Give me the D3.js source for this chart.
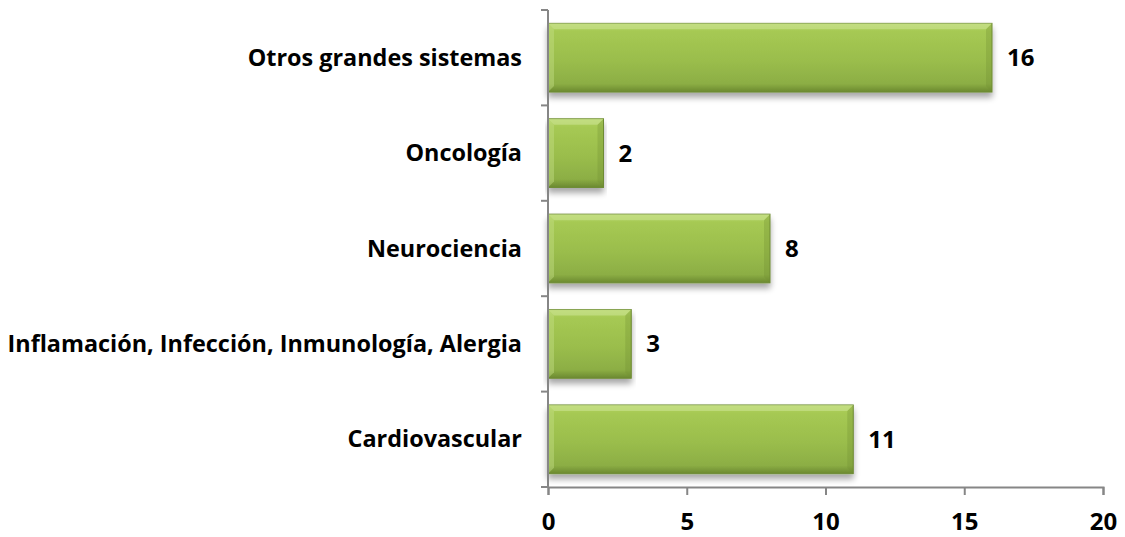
<!DOCTYPE html>
<html>
<head>
<meta charset="utf-8">
<script src="https://cdn.jsdelivr.net/npm/d3@7"></script>
<style>
  body { margin: 0; background: #fff; }
  text { font-family: "Open Sans", sans-serif; font-weight: bold; fill: #000; }
</style>
</head>
<body>
<div class="chart"></div>
<script>
// categories top to bottom as drawn
const categories = ['Otros grandes sistemas', 'Oncología', 'Neurociencia',
  'Inflamación, Infección, Inmunología, Alergia', 'Cardiovascular'];
const values = [16, 2, 8, 3, 11];
const xTicks = [0, 5, 10, 15, 20];

const width = 1125;
const height = 537;
const mLeft = 548, mRight = 1103, mTop = 10, mBottom = 487;

const svg = d3.select('.chart').append('svg')
    .attr('width', width)
    .attr('height', height)

const x = d3.scaleLinear().domain([0, 20]).range([mLeft, mRight]);
const y = d3.scaleBand().domain(categories).range([mTop, mBottom]).paddingInner(0.28).paddingOuter(0.14);

const defs = svg.append('defs');
const grad = defs.append('linearGradient').attr('id', 'barGrad')
    .attr('x1', 0).attr('y1', 0).attr('x2', 0).attr('y2', 1);
grad.append('stop').attr('offset', '0%').attr('stop-color', '#b4d467');
grad.append('stop').attr('offset', '12%').attr('stop-color', '#a6c953');
grad.append('stop').attr('offset', '55%').attr('stop-color', '#9abd4c');
grad.append('stop').attr('offset', '88%').attr('stop-color', '#8cae44');
grad.append('stop').attr('offset', '100%').attr('stop-color', '#6b8930');

const shadow = defs.append('filter').attr('id', 'shadow')
    .attr('x', '-5%').attr('y', '-10%').attr('width', '110%').attr('height', '130%');
shadow.append('feGaussianBlur').attr('in', 'SourceAlpha').attr('stdDeviation', 3);
shadow.append('feOffset').attr('dy', 5).attr('result', 'b');
shadow.append('feComponentTransfer').append('feFuncA').attr('type', 'linear').attr('slope', 0.35);
const merge = shadow.append('feMerge');
merge.append('feMergeNode');
merge.append('feMergeNode').attr('in', 'SourceGraphic');

const bars = svg.selectAll('g.bar')
    .data(categories)
    .enter()
    .append('g')
    .attr('class', 'bar')

bars.append('rect')
    .attr('x', x(0))
    .attr('y', d => y(d))
    .attr('width', (d, i) => x(values[i]) - x(0))
    .attr('height', y.bandwidth())
    .attr('fill', 'url(#barGrad)')
    .attr('stroke', '#6e8b34')
    .attr('stroke-width', 1)
    .attr('filter', 'url(#shadow)')

// bevel: light left edge, darker right edge
const bev = 6;
bars.append('path')
    .attr('d', (d, i) => {
      const x0 = x(0), y0 = y(d), h = y.bandwidth();
      return `M${x0},${y0}L${x0 + bev},${y0 + bev}L${x0 + bev},${y0 + h - bev}L${x0},${y0 + h}Z`;
    })
    .attr('fill', '#c3de86').attr('opacity', 0.45)
bars.append('path')
    .attr('d', (d, i) => {
      const x1 = x(values[i]), y0 = y(d), h = y.bandwidth();
      return `M${x1},${y0}L${x1 - bev},${y0 + bev}L${x1 - bev},${y0 + h - bev}L${x1},${y0 + h}Z`;
    })
    .attr('fill', '#6f8d32').attr('opacity', 0.3)
bars.append('path')
    .attr('d', (d, i) => {
      const x0 = x(0), x1 = x(values[i]), y0 = y(d);
      return `M${x0},${y0}L${x1},${y0}L${x1 - bev},${y0 + bev}L${x0 + bev},${y0 + bev}Z`;
    })
    .attr('fill', '#d2e89c').attr('opacity', 0.5)

// value labels
bars.append('text')
    .attr('x', (d, i) => x(values[i]) + 15)
    .attr('y', d => y(d) + y.bandwidth() / 2)
    .attr('dy', '0.35em')
    .attr('font-size', 24)
    .text((d, i) => values[i])

// y axis
const yAxis = svg.append('g').attr('transform', `translate(${mLeft},0)`);
yAxis.append('line').attr('x1', 0).attr('x2', 0).attr('y1', mTop).attr('y2', mBottom)
    .attr('stroke', '#868686').attr('stroke-width', 2);
const yTicks = categories.map(d => y(d) - y.step() * y.paddingInner() / 2).concat([mBottom]);
yAxis.selectAll('line.tick').data(yTicks).enter().append('line')
    .attr('class', 'tick')
    .attr('x1', -7).attr('x2', 0).attr('y1', d => d).attr('y2', d => d)
    .attr('stroke', '#868686').attr('stroke-width', 2);
yAxis.selectAll('text').data(categories).enter().append('text')
    .attr('x', -26)
    .attr('y', d => y(d) + y.bandwidth() / 2)
    .attr('dy', '0.35em')
    .attr('text-anchor', 'end')
    .attr('font-size', 23.4)
    .text(d => d)

// x axis
const xAxis = svg.append('g').attr('transform', `translate(0,${mBottom})`)
    .call(d3.axisBottom(x).tickValues(xTicks).tickSize(8).tickPadding(18));
xAxis.select('.domain').attr('stroke', '#868686').attr('stroke-width', 2);
xAxis.selectAll('.tick line').attr('stroke', '#868686').attr('stroke-width', 2);
xAxis.selectAll('.tick text')
    .attr('font-family', '"Open Sans", sans-serif')
    .attr('font-weight', 'bold')
    .attr('font-size', 24)
    .attr('fill', '#000')
</script>
</body>
</html>
